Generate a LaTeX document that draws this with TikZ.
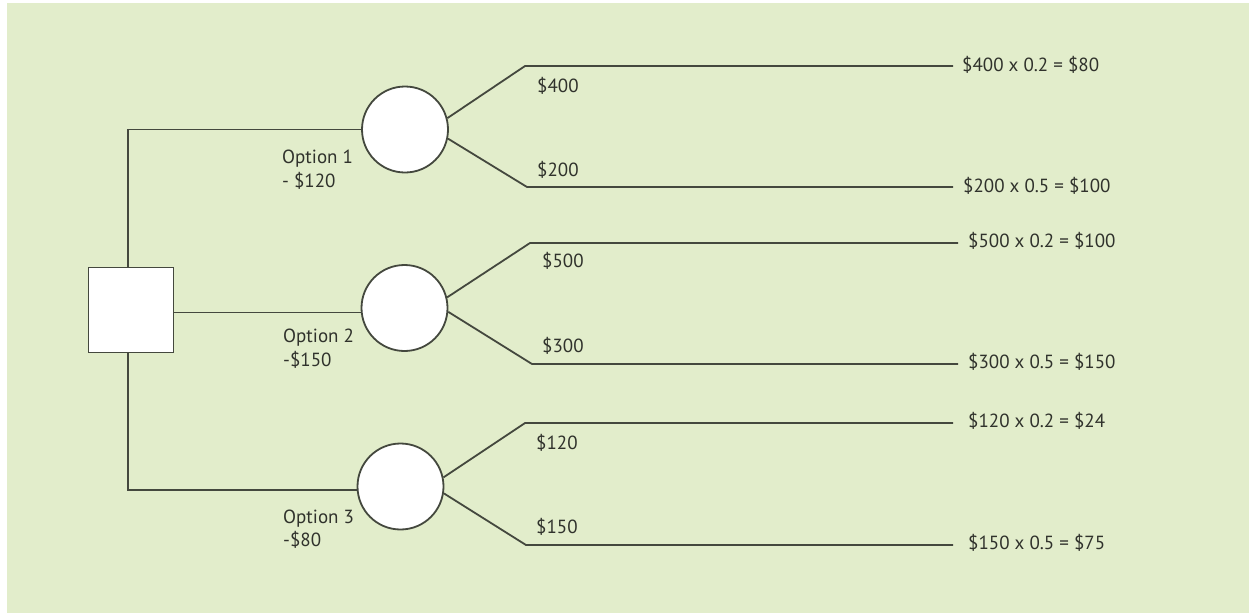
\documentclass[tikz,border=0pt]{standalone}
\usepackage{fontspec}
\setmainfont{PT Sans}
\begin{document}
\begin{tikzpicture}[x=1pt,y=-1pt,
  wire/.style={draw=wirecol,line width=1.8pt},
  chance/.style={circle,draw=wirecol,line width=1.8pt,fill=white,minimum size=86pt,inner sep=0pt},
  decision/.style={rectangle,draw=wirecol,line width=1.8pt,fill=white,minimum size=85pt,inner sep=0pt},
  lbl/.style={anchor=base west,inner sep=0pt,text=txtcol,font=\fontsize{19}{23}\selectfont}]
\definecolor{bgcol}{RGB}{226,237,203}
\definecolor{wirecol}{RGB}{68,72,62}
\definecolor{txtcol}{RGB}{48,50,44}
\useasboundingbox (0,0) rectangle (1249,613);
\fill[white] (0,0) rectangle (1249,613);
\fill[bgcol] (7,3) rectangle (1249,613);

% decision node and chance nodes
\node[decision] (dec) at (131,310) {};
\node[chance] (c1) at (405,129.5) {};
\node[chance] (c2) at (404.5,308) {};
\node[chance] (c3) at (400.5,486.5) {};

% options leaving the decision
\draw[wire] ([xshift=-3pt]dec.north) |- (c1.west);
\draw[wire] (dec.east |- c2.186) -- (c2.186);
\draw[wire] ([xshift=-3pt]dec.south) |- (c3.185);

% outcome corners and ends
\coordinate (k1a) at (525,66);  \coordinate (t1a) at (953,66);
\coordinate (k1b) at (527,187); \coordinate (t1b) at (953,187);
\coordinate (k2a) at (530,243); \coordinate (t2a) at (958,243);
\coordinate (k2b) at (532,364); \coordinate (t2b) at (958,364);
\coordinate (k3a) at (525,423); \coordinate (t3a) at (953,423);
\coordinate (k3b) at (526,545); \coordinate (t3b) at (953,545);

\draw[wire] (c1.15) -- (k1a) -- (t1a);
\draw[wire] (c1.-12) -- (k1b) -- (t1b);
\draw[wire] (c2.14) -- (k2a) -- (t2a);
\draw[wire] (c2.-5) -- (k2b) -- (t2b);
\draw[wire] (c3.12) -- (k3a) -- (t3a);
\draw[wire] (c3.-9) -- (k3b) -- (t3b);

% option labels
\node[lbl] (o1a) at (282,163) {Option 1};
\node[lbl] (o1b) at (282,187) {- \$120};
\node[lbl] (o2a) at (283,342) {Option 2};
\node[lbl] (o2b) at (283,366) {-\$150};
\node[lbl] (o3a) at (283,523) {Option 3};
\node[lbl] (o3b) at (283,546) {-\$80};

% outcome labels
\node[lbl] (v1a) at (537,92) {\$400};
\node[lbl] (v1b) at (537,176) {\$200};
\node[lbl] (v2a) at (542,267) {\$500};
\node[lbl] (v2b) at (542,352) {\$300};
\node[lbl] (v3a) at (536,449) {\$120};
\node[lbl] (v3b) at (536,533) {\$150};

% expected values
\node[lbl] (r1a) at (962,71) {\$400 x 0.2 = \$80};
\node[lbl] (r1b) at (963,192) {\$200 x 0.5 = \$100};
\node[lbl] (r2a) at (968,247) {\$500 x 0.2 = \$100};
\node[lbl] (r2b) at (968,368) {\$300 x 0.5 = \$150};
\node[lbl] (r3a) at (968,427) {\$120 x 0.2 = \$24};
\node[lbl] (r3b) at (968,549) {\$150 x 0.5 = \$75};
\end{tikzpicture}
\end{document}
